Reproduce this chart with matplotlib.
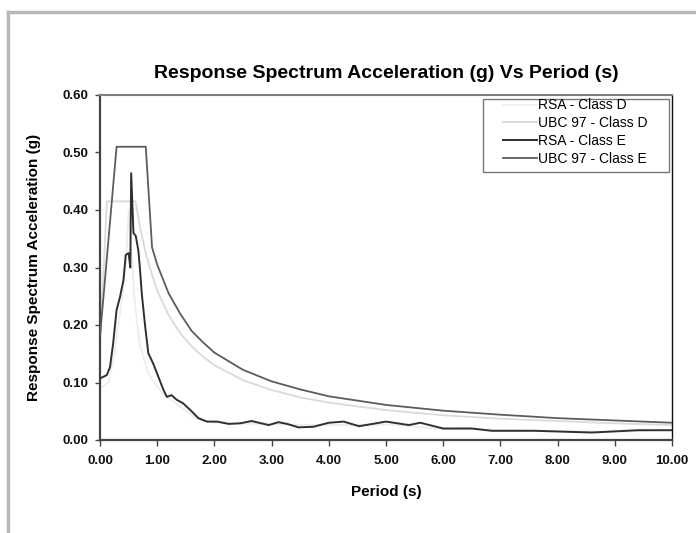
import matplotlib.pyplot as plt
from matplotlib.lines import Line2D
from matplotlib.patches import Rectangle

plt.rcParams['font.family'] = ['Liberation Sans', 'DejaVu Sans']

t_rsa_e = [0.0, 0.12, 0.175, 0.23, 0.29, 0.35, 0.41, 0.45, 0.50, 0.53, 0.545, 0.585,
           0.625, 0.67, 0.70, 0.73, 0.79, 0.845, 0.93, 1.02, 1.11, 1.17, 1.25, 1.34,
           1.45, 1.58, 1.72, 1.87, 2.05, 2.25, 2.45, 2.65, 2.95, 3.12, 3.27, 3.47,
           3.73, 4.0, 4.26, 4.53, 5.0, 5.4, 5.6, 6.0, 6.5, 6.85, 7.6, 8.6, 9.4, 10.0]
a_rsa_e = [0.107, 0.113, 0.127, 0.168, 0.226, 0.249, 0.278, 0.322, 0.325, 0.30, 0.464, 0.36,
           0.355, 0.33, 0.296, 0.255, 0.197, 0.151, 0.133, 0.11, 0.087, 0.075, 0.078, 0.07,
           0.064, 0.052, 0.038, 0.032, 0.032, 0.028, 0.029, 0.033, 0.026, 0.031, 0.028, 0.022,
           0.023, 0.030, 0.032, 0.024, 0.032, 0.026, 0.030, 0.020, 0.020, 0.016, 0.016, 0.013,
           0.017, 0.017]

t_rsa_d = [0.0, 0.15, 0.25, 0.35, 0.45, 0.50, 0.55, 0.60, 0.65, 0.70, 0.79, 0.85, 1.0,
           1.1, 1.4, 1.7, 2.0, 3.0, 4.0, 5.0, 6.0, 7.0, 8.0, 9.0, 10.0]
a_rsa_d = [0.09, 0.10, 0.15, 0.22, 0.30, 0.40, 0.33, 0.25, 0.20, 0.165, 0.134, 0.115, 0.093,
           0.08, 0.058, 0.036, 0.030, 0.027, 0.026, 0.027, 0.019, 0.018, 0.016, 0.014, 0.018]

t_ubc_e = [0.0, 0.29, 0.80, 0.91, 1.0, 1.2, 1.4, 1.6, 1.8, 2.0, 2.5, 3.0, 3.5, 4.0,
           5.0, 6.0, 7.0, 8.0, 9.0, 10.0]
a_ubc_e = [0.18, 0.51, 0.51, 0.335, 0.305, 0.255, 0.22, 0.19, 0.17, 0.152, 0.122, 0.102,
           0.088, 0.076, 0.061, 0.051, 0.044, 0.038, 0.034, 0.030]

t_ubc_d = [0.0, 0.12, 0.62, 0.7, 0.8, 0.9, 1.0, 1.2, 1.4, 1.6, 1.8, 2.0, 2.5, 3.0, 3.5,
           4.0, 5.0, 6.0, 7.0, 8.0, 9.0, 10.0]
a_ubc_d = [0.166, 0.415, 0.415, 0.37, 0.325, 0.29, 0.26, 0.217, 0.186, 0.163, 0.145, 0.13,
           0.104, 0.087, 0.074, 0.065, 0.052, 0.043, 0.037, 0.033, 0.029, 0.026]

x_ticks = [0, 1, 2, 3, 4, 5, 6, 7, 8, 9, 10]
y_ticks = [0.0, 0.1, 0.2, 0.3, 0.4, 0.5, 0.6]

fig = plt.figure(figsize=(6.96, 5.33), dpi=100)
ax = fig.add_axes([100 / 696, 1 - 440 / 533, 572 / 696, 345 / 533])

ax.plot(t_rsa_d, a_rsa_d, color='#ececec', lw=1.2, label='RSA - Class D')
ax.plot(t_ubc_d, a_ubc_d, color='#dadada', lw=1.3, label='UBC 97 - Class D')
ax.plot(t_ubc_e, a_ubc_e, color='#5c5c5c', lw=1.3, label='UBC 97 - Class E', zorder=3)
ax.plot(t_rsa_e, a_rsa_e, color='#303030', lw=1.4, label='RSA - Class E', zorder=4)

ax.set_xlim(0, 10)
ax.set_ylim(0, 0.6)
ax.set_xticks(x_ticks)
ax.set_yticks(y_ticks)
ax.set_xticklabels([f'{v:.2f}' for v in x_ticks])
ax.set_yticklabels([f'{v:.2f}' for v in y_ticks])
ax.tick_params(direction='out', width=1, color='#444444',
               labelsize=9.5, labelcolor='#111111')
ax.tick_params(axis='x', length=4.5, pad=6)
ax.tick_params(axis='y', length=3.6, pad=5)
for lab in ax.get_xticklabels() + ax.get_yticklabels():
    lab.set_fontweight('bold')

for side in ['left', 'bottom']:
    ax.spines[side].set_color('#444444')
    ax.spines[side].set_linewidth(1.6)
ax.spines['top'].set_color('#808080')
ax.spines['top'].set_linewidth(1.5)
ax.spines['right'].set_color('#111111')
ax.spines['right'].set_linewidth(1.0)

ax.set_xlabel('Period (s)', fontsize=11, fontweight='bold', labelpad=13)
ax.set_ylabel('Response Spectrum Acceleration (g)', fontsize=11, fontweight='bold', labelpad=15)
ax.set_title('Response Spectrum Acceleration (g) Vs Period (s)', fontsize=14,
             fontweight='bold', pad=12)

# legend in original order, frame drawn separately (Excel style box)
h, l = ax.get_legend_handles_labels()
order = [0, 1, 3, 2]
leg = ax.legend([h[i] for i in order], [l[i] for i in order], loc='upper left',
                bbox_to_anchor=(0.7045, 0.99), fontsize=10, frameon=False,
                handlelength=2.45, handletextpad=0.1, labelspacing=0.27,
                borderpad=0, borderaxespad=0)
ax.add_patch(Rectangle((0.6696, 0.7768), 0.9948 - 0.6696, 0.9884 - 0.7768,
                       transform=ax.transAxes, fill=False, edgecolor='#777777',
                       lw=1.0, zorder=5))

# grey outer frame of the original chart object
fig.add_artist(Line2D([8 / 696, 1], [1 - 12 / 533, 1 - 12 / 533], color='#b8b8b8', lw=2.5))
fig.add_artist(Line2D([8 / 696, 8 / 696], [0, 1 - 12 / 533], color='#b8b8b8', lw=2.5))

fig.savefig('out.png', dpi=100, facecolor='white')
